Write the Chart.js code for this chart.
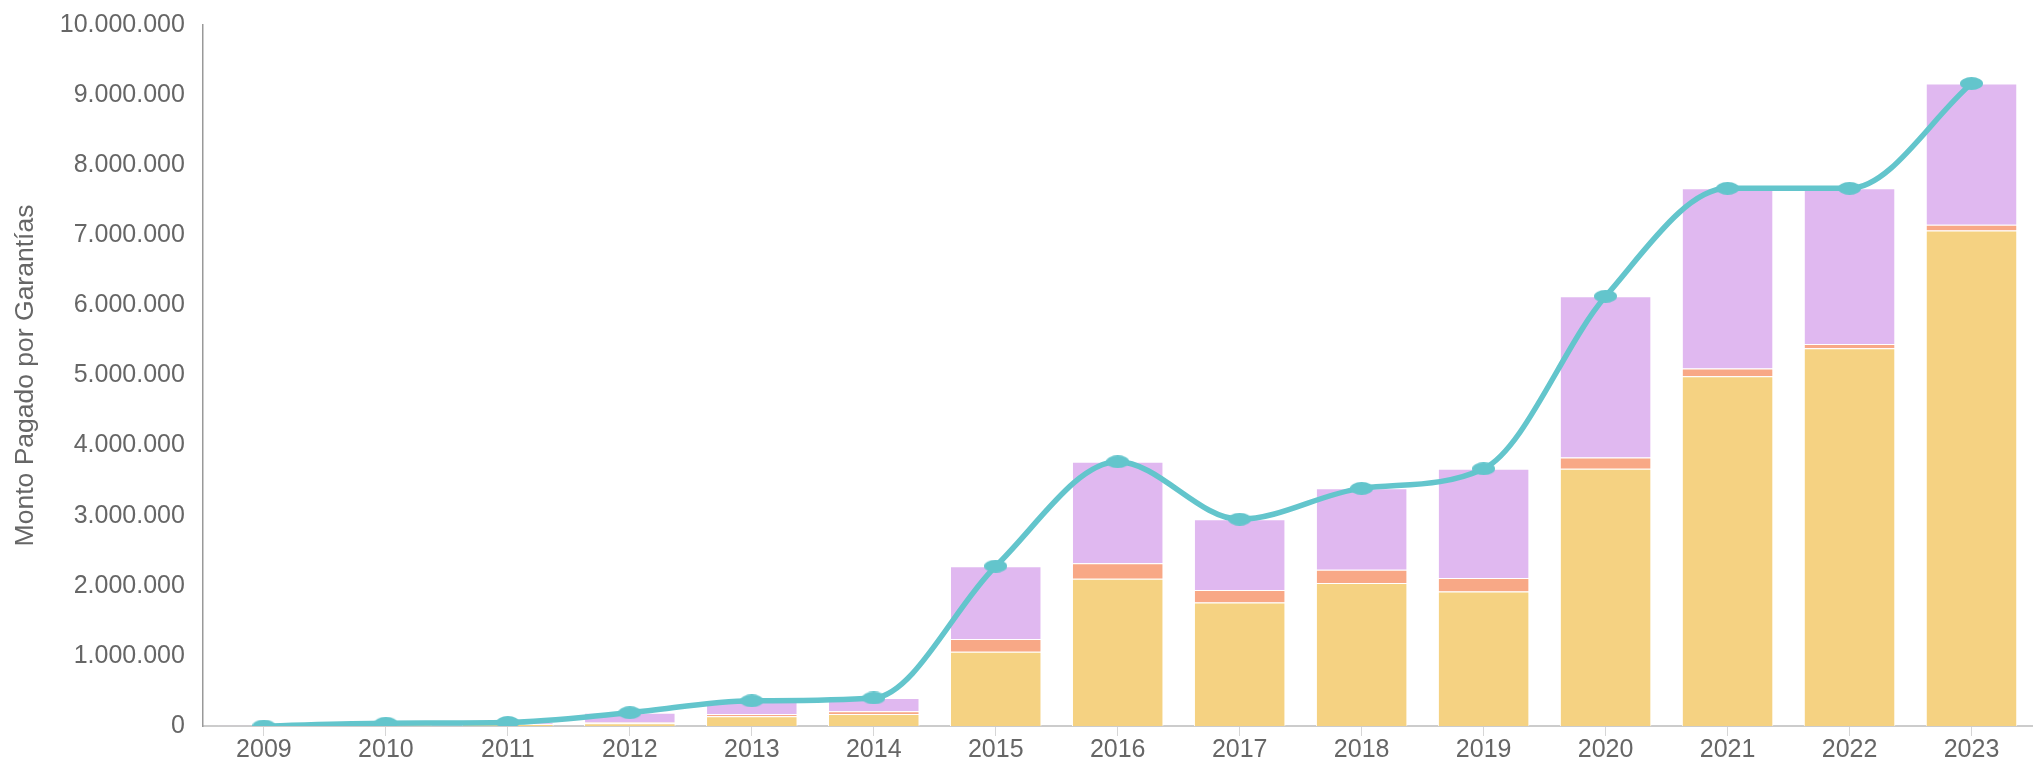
<!DOCTYPE html>
<html>
<head>
<meta charset="utf-8">
<title>Monto Pagado por Garantías</title>
<script src="https://cdn.jsdelivr.net/npm/chart.js@4"></script>
<style>
  html, body { margin: 0; padding: 0; background: #fff; overflow: hidden; }
  /* shifted up a bit: the y label padding pushes the plot top down */
  .chart-box { width: 2042px; height: 773px; position: relative; top: -8px; }
</style>
</head>
<body>
<div class="chart-box">
  <canvas id="garantiasChart"></canvas>
</div>
<script>
const years = ['2009', '2010', '2011', '2012', '2013', '2014', '2015', '2016', '2017', '2018', '2019', '2020', '2021', '2022', '2023'];

// stacked bar parts (bottom to top)
const yellowValues = [0, 20000, 25000, 40000, 140000, 170000, 1060000, 2100000, 1760000, 2040000, 1920000, 3670000, 4990000, 5390000, 7070000];
const orangeValues = [0, 5000, 5000, 10000, 30000, 40000, 180000, 220000, 180000, 190000, 190000, 160000, 110000, 60000, 80000];
const purpleValues = [5000, 15000, 20000, 140000, 190000, 190000, 1040000, 1450000, 1010000, 1160000, 1560000, 2300000, 2570000, 2220000, 2015000];

// totals line
const totalValues = [0, 40000, 50000, 190000, 360000, 400000, 2280000, 3770000, 2950000, 3390000, 3670000, 6130000, 7670000, 7670000, 9165000];

const yTicks = [0, 1000000, 2000000, 3000000, 4000000, 5000000, 6000000, 7000000, 8000000, 9000000, 10000000];

const formatDots = (v) => String(Math.round(v)).replace(/\B(?=(\d{3})+(?!\d))/g, '.');

// points in the reference are flat ellipses, so draw one into a small canvas
const makeEllipse = (w, h, color) => {
  const c = document.createElement('canvas');
  c.width = w;
  c.height = h;
  const ctx = c.getContext('2d');
  ctx.fillStyle = color;
  ctx.beginPath();
  ctx.ellipse(w / 2, h / 2, w / 2, h / 2, 0, 0, Math.PI * 2);
  ctx.fill();
  return c;
};

const teal = '#63c5cc';
const tickFont = { family: 'Liberation Sans, Arial, sans-serif', size: 25 };

const ctx = document.getElementById('garantiasChart');
new Chart(ctx, {
  data: {
    labels: years,
    datasets: [
      {
        type: 'line',
        label: 'Total',
        data: totalValues,
        borderColor: teal,
        backgroundColor: teal,
        borderWidth: 5.5,
        cubicInterpolationMode: 'monotone',
        pointStyle: makeEllipse(23, 13, teal),
        fill: false,
        order: 0,
      },
      {
        type: 'bar',
        label: 'Amarillo',
        data: yellowValues,
        backgroundColor: '#f5d282',
        borderColor: '#ffffff',
        borderWidth: 1,
        stack: 'montos',
        order: 1,
      },
      {
        type: 'bar',
        label: 'Naranjo',
        data: orangeValues,
        backgroundColor: '#f8a886',
        borderColor: '#ffffff',
        borderWidth: 1,
        stack: 'montos',
        order: 1,
      },
      {
        type: 'bar',
        label: 'Morado',
        data: purpleValues,
        backgroundColor: '#e0b8f0',
        borderColor: '#ffffff',
        borderWidth: 1,
        stack: 'montos',
        order: 1,
      },
    ],
  },
  options: {
    responsive: true,
    maintainAspectRatio: false,
    animation: false,
    layout: {
      padding: { top: 0, right: 0, bottom: 0, left: 0 },
    },
    datasets: {
      bar: {
        categoryPercentage: 1,
        barPercentage: 0.75,
      },
    },
    plugins: {
      legend: { display: false },
      tooltip: { enabled: false },
    },
    scales: {
      x: {
        stacked: true,
        offset: true,
        grid: {
          display: true,
          offset: false,
          drawOnChartArea: false,
          drawTicks: true,
          tickLength: 10,
          color: '#d6d6d6',
        },
        border: { display: true, color: '#cccccc', width: 2 },
        ticks: {
          color: '#666666',
          font: { ...tickFont, lineHeight: 1.0 },
          padding: 2,
          maxRotation: 0,
          autoSkip: false,
        },
      },
      y: {
        stacked: true,
        min: 0,
        max: 10000000,
        afterBuildTicks: (axis) => {
          axis.ticks = yTicks.map(v => ({ value: v }));
        },
        grid: { display: false, drawTicks: false },
        border: { display: true, color: '#999999', width: 1.5 },
        ticks: {
          color: '#666666',
          font: tickFont,
          padding: 18,
          callback: (value) => formatDots(value),
        },
        title: {
          display: true,
          text: 'Monto Pagado por Garantías',
          color: '#666666',
          font: { family: 'Liberation Sans, Arial, sans-serif', size: 26.5 },
          padding: { top: 10, bottom: 0 },
        },
      },
    },
  },
});
</script>
</body>
</html>
